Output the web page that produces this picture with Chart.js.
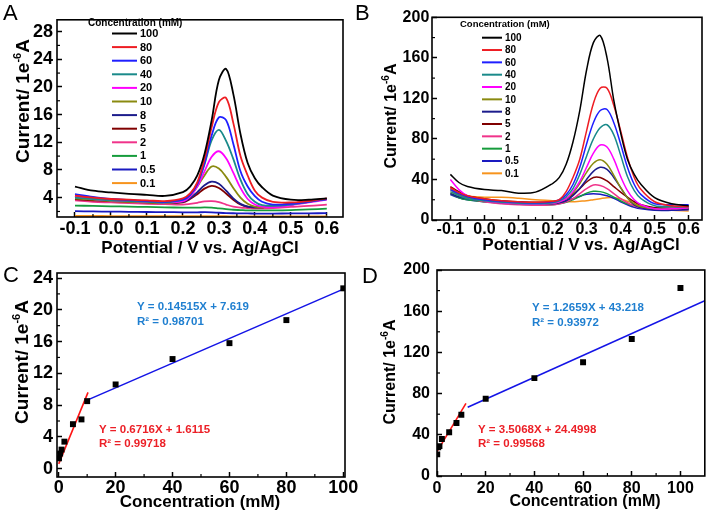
<!DOCTYPE html>
<html><head><meta charset="utf-8">
<script src="https://cdn.jsdelivr.net/npm/chart.js@4.4.0/dist/chart.umd.min.js"></script>
<style>
html,body{margin:0;padding:0;background:#fff;}
#wrap{position:relative;width:709px;height:521px;overflow:hidden;background:#fff;}
canvas{position:absolute;left:0;top:0;}
</style></head><body>
<div id="wrap">
<canvas id="cA" width="709" height="521"></canvas>
<canvas id="cB" width="709" height="521"></canvas>
<canvas id="cC" width="709" height="521"></canvas>
<canvas id="cD" width="709" height="521"></canvas>
</div>
<script>
// ---------- DATA ----------
const concLabels = ['100','80','60','40','20','10','8','5','2','1','0.5','0.1'];
const seriesColors = ['#000000','#ee1d23','#1f1fff','#1a8a8a','#ff00ff','#8a8a10','#1c1c8c','#800000','#f0338a','#169c3c','#1a1ac0','#f7941d'];

// Panel A: potential (V) and current (1e-6 A)
const potA = [-0.1,-0.05,0,0.05,0.1,0.15,0.2,0.22,0.24,0.26,0.28,0.3,0.32,0.34,0.36,0.38,0.4,0.42,0.45,0.5,0.55,0.6];
const a100 = [5.6,5.0,4.75,4.55,4.4,4.25,4.8,5.6,7.2,10.3,15.2,21.0,22.6,19.0,13.2,9.0,6.8,5.5,4.3,3.7,3.7,3.9];
const a80  = [4.3,4.0,3.8,3.7,3.6,3.5,3.9,4.6,6.2,9.6,14.2,17.8,18.4,14.8,10.0,7.2,5.0,4.0,3.4,3.3,3.5,3.9];
const a60  = [4.5,4.1,3.8,3.65,3.5,3.4,3.7,4.4,6.0,9.0,13.0,15.6,15.2,11.8,7.8,5.6,4.2,3.4,3.0,3.1,3.4,3.8];
const a40  = [4.0,3.8,3.6,3.5,3.4,3.3,3.7,4.4,6.0,8.8,12.3,13.8,12.2,9.6,6.6,4.5,3.4,2.9,2.8,3.0,3.4,3.8];
const a20  = [4.1,3.8,3.6,3.5,3.4,3.3,3.5,4.2,5.6,7.8,9.9,10.7,9.7,7.6,5.4,3.8,3.0,2.7,2.6,2.9,3.3,3.7];
const a10  = [3.9,3.7,3.5,3.4,3.3,3.2,3.5,4.2,5.6,7.2,8.5,8.2,7.0,5.4,4.0,3.1,2.7,2.6,2.7,3.0,3.4,3.8];
const a8   = [4.2,3.9,3.6,3.5,3.4,3.3,3.4,3.9,4.8,5.8,6.3,6.0,5.0,3.9,3.1,2.7,2.6,2.6,2.8,3.1,3.5,3.8];
const a5   = [3.8,3.6,3.5,3.4,3.3,3.2,3.3,3.8,4.5,5.3,5.7,5.4,4.6,3.7,3.0,2.7,2.6,2.6,2.8,3.1,3.5,3.8];
const a2   = [3.6,3.4,3.3,3.2,3.1,3.05,3.0,3.1,3.25,3.45,3.5,3.35,3.0,2.7,2.55,2.5,2.45,2.45,2.5,2.65,2.8,3.0];
const a1   = [2.85,2.8,2.75,2.7,2.65,2.6,2.55,2.55,2.55,2.58,2.55,2.45,2.35,2.25,2.2,2.15,2.15,2.15,2.15,2.2,2.3,2.4];
const a05  = [2.05,2.0,1.98,1.95,1.92,1.9,1.88,1.87,1.87,1.9,1.88,1.82,1.77,1.74,1.72,1.71,1.7,1.7,1.7,1.71,1.73,1.76];
const a01  = [1.35,1.35,1.34,1.34,1.33,1.33,1.32,1.32,1.32,1.33,1.33,1.32,1.31,1.3,1.3,1.3,1.3,1.3,1.3,1.3,1.3,1.3];

// Panel B
const potB = [-0.1,-0.075,-0.05,0,0.05,0.1,0.15,0.2,0.22,0.24,0.26,0.28,0.3,0.32,0.34,0.36,0.38,0.4,0.42,0.44,0.46,0.5,0.55,0.6];
const b100 = [45,37,33,30,29,26.5,27.5,36,42,55,77,108,148,175,182,160,118,86,60,45,35,22,16,14];
const b80  = [32,27,24,21,19,18,17.5,18.5,20,28,42,60,88,115,130,130,113,88,62,42,30,18,14,13];
const b60  = [30,26,23,20,18.5,17.5,17,18,20,25,35,52,75,96,108,109,96,75,52,35,25,16,15,15];
const b40  = [28,24,21,19,17.5,16.5,16,17,19,23,31,45,63,80,91,94,84,64,43,29,21,14,13,13];
const b20  = [40,30,24,19,17,16,15.5,16.5,18,21,28,38,52,66,74,72,60,43,29,20,15,11,11,12];
const b10  = [30,25,22,19,17,16,15.5,16.5,18,21,27,36,47,56,59.5,55,44,32,22,16,13,11,11,12];
const b8   = [26,23,21,19,17,16,15.5,16,17,19,24,31,40,48,52,50,42,32,22,15,12,10,10,11];
const b5   = [33,28,24,21,19,18,17.5,18,19,21,25,31,37.5,42,42,38.5,33,27.5,22.5,18,15,12,11,11];
const b2   = [32,26,22,18,16,15,14.5,15,16,18,21,26,31,34.5,34,31,26,21,17,14,12,11,12,13];
const b1   = [26,22,20,18,16.5,15.5,15,15,16,17.5,20,23,26.5,28.3,28,26,22.5,19,16,14,13,12,12,13];
const b05  = [25,22,20,18,17,16,16,16.5,17.5,19,21,23.5,25.5,26,25.5,24,21.5,18,15,12.5,11,9.5,9.5,10];
const b01  = [27,25,23.5,22.5,22.5,21.5,20,19,18.5,18,18,18.5,19,20,21,22,22,21,18.5,16,14,11,9.5,9];

// Panels C and D: peak current vs concentration
const concPts = [0.1,0.5,1,2,5,8,10,20,40,60,80,100];
const peakC = [1.3,1.9,2.4,3.4,5.6,6.2,8.5,10.6,13.8,15.8,18.7,22.7];
const peakD = [21,28,29,36,42.5,51.5,59.5,75,95,110.5,133,182.5];
const fitLowC_x = [0,10.3], fitLowC_y = [0.6,9.6];
const fitHighC_x = [9.2,100], fitHighC_y = [8.5,22.6];
const fitLowD_x = [0,11.9], fitLowD_y = [23.6,70.5];
const fitHighD_x = [12.6,110], fitHighD_y = [66.7,170.2];

// Tick values
const ticksPotMajor = [-0.1,0,0.1,0.2,0.3,0.4,0.5,0.6];
const ticksPotMinor = [-0.05,0.05,0.15,0.25,0.35,0.45,0.55];
const ticksAYMajor = [4,8,12,16,20,24,28];
const ticksAYMinor = [2,6,10,14,18,22,26];
const ticksBYMajor = [0,40,80,120,160,200];
const ticksBYMinor = [20,60,100,140,180];
const ticksCXMajor = [0,20,40,60,80,100];
const ticksCXMinor = [10,30,50,70,90];
const ticksCYMajor = [0,4,8,12,16,20,24];
const ticksCYMinor = [2,6,10,14,18,22];
const ticksDXMajor = [0,20,40,60,80,100];
const ticksDXMinor = [10,30,50,70,90];
const ticksDYMajor = [0,40,80,120,160,200];
const ticksDYMinor = [20,60,100,140,180];

// ---------- RENDER ----------
const FF = "'Liberation Sans', Arial, Helvetica, sans-serif";
const CW = 709, CH = 521, AXW = 40, AXH = 30;
function padFor(a){ return {left:a.l-AXW, top:a.t, right:CW-a.r, bottom:CH-a.b-AXH}; }

const decor = {
  id:'decor',
  afterDatasetsDraw(chart, args, o){
    const ctx=chart.ctx, ca=chart.chartArea, xs=chart.scales.x, ys=chart.scales.y;
    ctx.save();
    ctx.strokeStyle='#000'; ctx.lineWidth=1.2;
    (o.minorX||[]).forEach(v=>{const p=xs.getPixelForValue(v); ctx.beginPath(); ctx.moveTo(p,ca.bottom); ctx.lineTo(p,ca.bottom-3); ctx.stroke();});
    (o.minorY||[]).forEach(v=>{const p=ys.getPixelForValue(v); ctx.beginPath(); ctx.moveTo(ca.left,p); ctx.lineTo(ca.left+3,p); ctx.stroke();});
    ctx.lineWidth=1.6;
    ctx.strokeRect(ca.left,ca.top,ca.right-ca.left,ca.bottom-ca.top);
    ctx.restore();
  },
  afterDraw(chart, args, o){
    const ctx=chart.ctx;
    ctx.save();
    ctx.fillStyle='#000';
    if(o.letter){ ctx.font=o.letter.font; ctx.textAlign='left'; ctx.textBaseline='alphabetic'; ctx.fillText(o.letter.text,o.letter.x,o.letter.y); }
    if(o.xTitle){ ctx.font=o.xTitle.font; ctx.textAlign='center'; ctx.textBaseline='middle'; ctx.fillText(o.xTitle.text,o.xTitle.x,o.xTitle.y); }
    ctx.restore();
    if(o.yTitle){
      const t=o.yTitle; ctx.save(); ctx.fillStyle='#000';
      ctx.translate(t.x,t.y); ctx.rotate(-Math.PI/2);
      const big='bold '+t.size+'px '+FF, small='bold '+Math.round(t.size*0.6)+'px '+FF;
      ctx.font=big; const w1=ctx.measureText(t.pre).width, w3=ctx.measureText(t.post).width;
      ctx.font=small; const w2=ctx.measureText(t.sup).width;
      let x=-(w1+w2+w3)/2; const base=t.size*0.36;
      ctx.textAlign='left'; ctx.textBaseline='alphabetic';
      ctx.font=big; ctx.fillText(t.pre,x,base); x+=w1;
      ctx.font=small; ctx.fillText(t.sup,x,base-t.size*0.42); x+=w2;
      ctx.font=big; ctx.fillText(t.post,x,base);
      ctx.restore();
    }
    if(o.legend){
      const L=o.legend; ctx.save(); ctx.fillStyle='#000';
      ctx.font=L.titleFont; ctx.textAlign='left'; ctx.textBaseline='middle';
      ctx.fillText(L.title,L.tx,L.ty);
      ctx.font=L.font;
      chart.data.datasets.forEach((d,i)=>{
        const y=L.y0+i*L.dy;
        ctx.strokeStyle=d.borderColor; ctx.lineWidth=L.lw;
        ctx.beginPath(); ctx.moveTo(L.x1,y); ctx.lineTo(L.x2,y); ctx.stroke();
        ctx.fillStyle='#000'; ctx.fillText(d.label,L.lx,y+0.5);
      });
      ctx.restore();
    }
    (o.notes||[]).forEach(n=>{ ctx.save(); ctx.font=n.font; ctx.fillStyle=n.color; ctx.textAlign='left'; ctx.textBaseline='middle'; ctx.fillText(n.text,n.x,n.y); ctx.restore(); });
  }
};

function scale(axis, min, max, majors, size, pad, fmt){
  return {
    type:'linear', min, max,
    afterBuildTicks: s => { s.ticks = majors.map(v=>({value:v})); },
    afterFit: s => { if(axis==='x') s.height=AXH; else s.width=AXW; },
    grid:{drawOnChartArea:false, drawTicks:true, tickLength:-5, tickWidth:1.5, tickColor:'#000'},
    border:{display:false},
    ticks:{autoSkip:false, maxRotation:0, color:'#000', padding:pad, font:{family:FF, size:size, weight:'bold'}, callback: fmt || (v=>String(v))}
  };
}

function curveChart(id, pot, curves, area, xr, yr, yMaj, yMin, fs, pads, lw, decorOpts){
  const datasets = curves.map((c,i)=>({
    label: concLabels[i],
    data: pot.map((p,j)=>({x:p, y:c[j]})),
    borderColor: seriesColors[i], backgroundColor: seriesColors[i],
    borderWidth: lw, pointRadius:0, tension:0.35, fill:false
  }));
  return new Chart(document.getElementById(id), {
    type:'line',
    data:{datasets},
    options:{
      responsive:false, animation:false, devicePixelRatio:1,
      layout:{padding:padFor(area)},
      scales:{
        x: scale('x', xr[0], xr[1], ticksPotMajor, fs, pads[0], v=>Number(v).toFixed(1)),
        y: scale('y', yr[0], yr[1], yMaj, fs, pads[1])
      },
      plugins:{legend:{display:false}, tooltip:{enabled:false}, decor: decorOpts}
    },
    plugins:[decor]
  });
}

function calChart(id, peaks, lowX, lowY, highX, highY, area, xr, yr, xMaj, yMaj, fs, pads, decorOpts){
  const datasets = [
    {label:'data', data: concPts.map((c,i)=>({x:c, y:peaks[i]})), showLine:false, pointStyle:'rect', pointRadius:4.2, backgroundColor:'#000', borderColor:'#000', borderWidth:0},
    {label:'low', data: lowX.map((x,i)=>({x, y:lowY[i]})), showLine:true, pointRadius:0, borderColor:'#ff1414', borderWidth:1.6},
    {label:'high', data: highX.map((x,i)=>({x, y:highY[i]})), showLine:true, pointRadius:0, borderColor:'#1414e6', borderWidth:1.6}
  ];
  return new Chart(document.getElementById(id), {
    type:'scatter',
    data:{datasets},
    options:{
      responsive:false, animation:false, devicePixelRatio:1,
      layout:{padding:padFor(area)},
      scales:{
        x: scale('x', xr[0], xr[1], xMaj, fs, pads[0]),
        y: scale('y', yr[0], yr[1], yMaj, fs, pads[1])
      },
      plugins:{legend:{display:false}, tooltip:{enabled:false}, decor: decorOpts}
    },
    plugins:[decor]
  });
}

const eqBlue = '#1f7fd0', eqRed = '#ec2027';

curveChart('cA', potA, [a100,a80,a60,a40,a20,a10,a8,a5,a2,a1,a05,a01],
  {l:57,t:13,r:343,b:217}, [-0.15,0.645], [1.2,29.7], ticksAYMajor, ticksAYMinor, 18, [6.2,9], 1.8,
  { minorX:ticksPotMinor, minorY:ticksAYMinor,
    letter:{text:'A', x:3, y:20, font:'22px '+FF},
    xTitle:{text:'Potential / V vs. Ag/AgCl', x:200, y:248, font:'bold 17px '+FF},
    yTitle:{pre:'Current/ 1e', sup:'-6', post:'A', x:22, y:101, size:19},
    legend:{title:'Concentration (mM)', tx:88, ty:23.5, titleFont:'bold 10px '+FF, font:'bold 11px '+FF,
            x1:112, x2:137, lx:140, y0:33.5, dy:13.6, lw:2}
  });

curveChart('cB', potB, [b100,b80,b60,b40,b20,b10,b8,b5,b2,b1,b05,b01],
  {l:432,t:9,r:702,b:220}, [-0.154,0.639], [0,200], ticksBYMajor, ticksBYMinor, 16, [5.1,7.7], 1.5,
  { minorX:ticksPotMinor, minorY:ticksBYMinor,
    letter:{text:'B', x:355, y:20, font:'22px '+FF},
    xTitle:{text:'Potential / V vs. Ag/AgCl', x:581, y:245, font:'bold 17px '+FF},
    yTitle:{pre:'Current/ 1e', sup:'-6', post:'A', x:390, y:116, size:16},
    legend:{title:'Concentration (mM)', tx:460, ty:24, titleFont:'bold 9.5px '+FF, font:'bold 10px '+FF,
            x1:482, x2:502, lx:505, y0:37.7, dy:12.33, lw:2}
  });

calChart('cC', peakC, fitLowC_x, fitLowC_y, fitHighC_x, fitHighC_y,
  {l:57,t:273,r:345,b:477}, [-0.6,100.6], [-1.05,24.63], ticksCXMajor, ticksCYMajor, 18, [5.2,9],
  { minorX:ticksCXMinor, minorY:ticksCYMinor,
    letter:{text:'C', x:3, y:282, font:'22px '+FF},
    xTitle:{text:'Concentration (mM)', x:200, y:502, font:'bold 17px '+FF},
    yTitle:{pre:'Current/ 1e', sup:'-6', post:'A', x:21, y:362, size:19},
    notes:[
      {text:'Y = 0.14515X + 7.619', x:137, y:307, font:'bold 11.5px '+FF, color:eqBlue},
      {text:'R² = 0.98701', x:137, y:322, font:'bold 11.5px '+FF, color:eqBlue},
      {text:'Y = 0.6716X + 1.6115', x:99, y:429.5, font:'bold 11.5px '+FF, color:eqRed},
      {text:'R² = 0.99718', x:99, y:443.5, font:'bold 11.5px '+FF, color:eqRed}
    ]
  });

calChart('cD', peakD, fitLowD_x, fitLowD_y, fitHighD_x, fitHighD_y,
  {l:437,t:270,r:708,b:476}, [0,110], [0,200], ticksDXMajor, ticksDYMajor, 16, [7.7,12],
  { minorX:ticksDXMinor, minorY:ticksDYMinor,
    letter:{text:'D', x:362, y:283, font:'22px '+FF},
    xTitle:{text:'Concentration (mM)', x:585, y:502, font:'bold 16px '+FF},
    yTitle:{pre:'Current/ 1e', sup:'-6', post:'A', x:389, y:372, size:16},
    notes:[
      {text:'Y = 1.2659X + 43.218', x:532, y:307.5, font:'bold 11.5px '+FF, color:eqBlue},
      {text:'R² = 0.93972', x:532, y:322.5, font:'bold 11.5px '+FF, color:eqBlue},
      {text:'Y = 3.5068X + 24.4998', x:478, y:429.5, font:'bold 11.5px '+FF, color:eqRed},
      {text:'R² = 0.99568', x:478, y:443.5, font:'bold 11.5px '+FF, color:eqRed}
    ]
  });
</script>
</body></html>
